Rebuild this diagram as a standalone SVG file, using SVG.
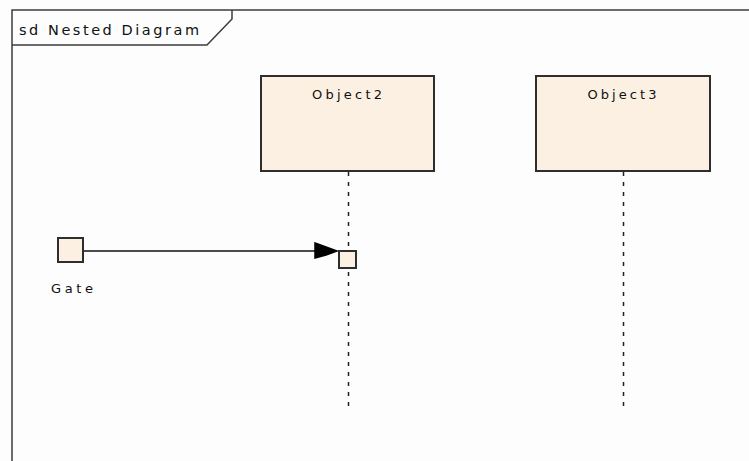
<svg xmlns="http://www.w3.org/2000/svg" width="749" height="461" viewBox="0 0 749 461">
<style>
.frame{fill:none;stroke:#3c3c3c;stroke-width:1.5}
.obj{fill:#FBF0E1;stroke:#2e2e2e;stroke-width:2}
.life{stroke:#222;stroke-width:1.5;stroke-dasharray:4 6;fill:none}
.lbl{font-family:"DejaVu Sans","Liberation Sans",Arial,sans-serif;fill:#111}
.msg{stroke:#111;stroke-width:1.5;fill:none}
</style>
<rect width="749" height="461" fill="#fdfdfd"/>
<g id="frame">
<path class="frame" d="M12,461 V10 H749"/>
<path class="frame" d="M12,45 H207 L232,19 V10"/>
<text class="lbl" x="19" y="35" font-size="14.5" textLength="180" lengthAdjust="spacing">sd Nested Diagram</text>
</g>
<g id="Object2">
<rect class="obj" x="261" y="76" width="173" height="95"/>
<text class="lbl" x="347" y="99" font-size="13" text-anchor="middle" textLength="70" lengthAdjust="spacing">Object2</text>
</g>
<g id="Object3">
<rect class="obj" x="536" y="76" width="174" height="95"/>
<text class="lbl" x="622" y="99" font-size="13" text-anchor="middle" textLength="69" lengthAdjust="spacing">Object3</text>
</g>
<g id="Gate">
<rect class="obj" x="58" y="238" width="25" height="24"/>
<text class="lbl" x="51" y="293" font-size="13" textLength="42" lengthAdjust="spacing">Gate</text>
</g>
<g id="connectors">
<line class="life" x1="348.5" y1="172" x2="348.5" y2="411"/>
<line class="life" x1="623.5" y1="172" x2="623.5" y2="411"/>
<line class="msg" x1="84" y1="251" x2="320" y2="251"/>
<polygon points="315,243 326,247 337,251 326,255 315,258" fill="#000" stroke="#000" stroke-width="1.5"/>
</g>
<g id="Activation">
<rect class="obj" x="339" y="251" width="17" height="17" stroke-width="1.5"/>
</g>
</svg>
